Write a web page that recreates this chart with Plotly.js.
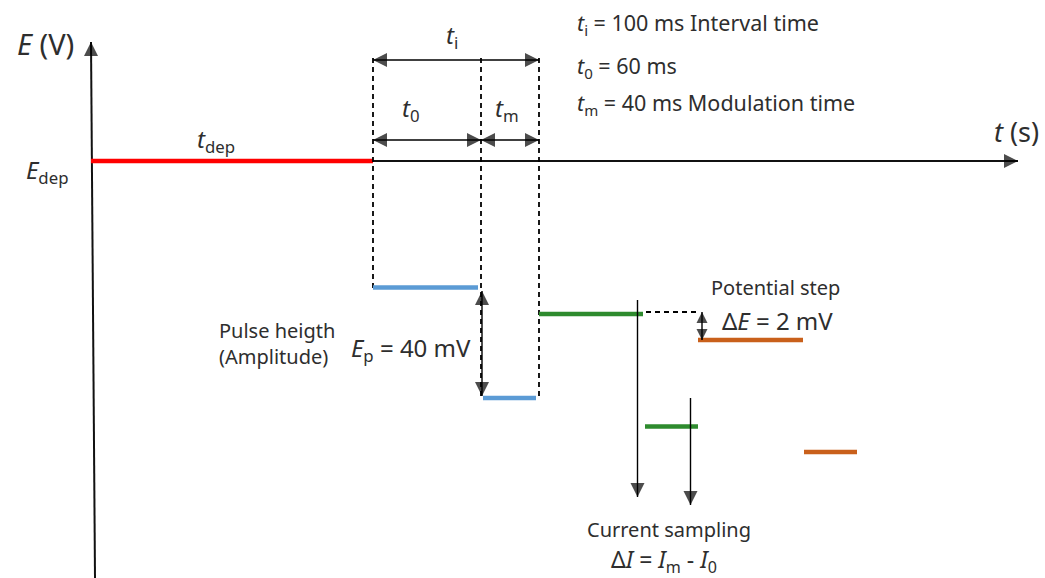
<!DOCTYPE html>
<html>
<head>
<meta charset="utf-8">
<script src="https://cdn.plot.ly/plotly-3.0.1.min.js"></script>
<style>html,body{margin:0;padding:0;background:#fff;}#chart{width:1045px;height:578px;}</style>
</head>
<body>
<div id="chart"></div>
<script>
// ---- schematic data (diagram units) ----
const eAxisX = [95, 91];           // potential axis (bottom -> top)
const eAxisY = [578, 42];
const timeAxisX = [373, 1018];     // time axis
const timeAxisY = [161, 161];
const depX = [91, 373];            // deposition step
const depY = [161, 161];
// pulse levels: [pulse1 base, pulse1 pulse, pulse2 base, pulse2 pulse, pulse3 base, pulse3 pulse]
const levelStartX = [373, 483, 539, 645, 698, 804];
const levelEndX   = [478, 536, 643, 698, 803, 857];
const levelY      = [287.5, 398, 314, 426.5, 340, 452];
const levelPulse  = [0, 0, 1, 1, 2, 2];
// dashed guides
const guideX      = [373, 481, 539];
const guideTop    = [58, 58, 58];
const guideBottom = [288, 398, 398];
const stepGuideX  = [646, 700];
const stepGuideY  = [312, 312];
// current sampling lines
const sampleX   = [637.5, 690.5];
const sampleTop = [300, 398];
const sampleTip = [497, 505];
// dimension arrows [x0, y0, x1, y1]
const dimTi = [373, 60, 539, 60];
const dimT0 = [373, 140, 481, 140];
const dimTm = [481, 140, 539, 140];
const dimEp = [482, 291, 482, 396];
const dimDE = [702, 312, 702, 340];
// text labels
const infoLines = [
  '<i>t</i><sub>i</sub> = 100 ms Interval time',
  '<i>t</i><sub>0</sub> = 60 ms',
  '<i>t</i><sub>m</sub> = 40 ms Modulation time'
];

const pulseColors = ['#5B9BD5', '#2E8B2E', '#C9601B'];
const FONT = 'Noto Sans, DejaVu Sans, sans-serif';
const TXT = '#2e2e2e';

// line groups (one trace per style, segments separated by null)
const groups = {};
function seg(key, x, y) {
  if (!groups[key]) groups[key] = {x: [], y: []};
  groups[key].x.push(x[0], x[1], null);
  groups[key].y.push(y[0], y[1], null);
}
const styles = {
  axis:  {color: '#111', width: 2},
  dash:  {color: '#000', width: 1.8, dash: '5px,4px'},
  dep:   {color: '#FF0000', width: 4.5},
  p0:    {color: pulseColors[0], width: 4.5},
  p1:    {color: pulseColors[1], width: 4.5},
  p2:    {color: pulseColors[2], width: 4.5},
  arrow: {color: '#000', width: 1.4}
};
const headX = [], headY = [], headSym = [], headSize = [];
function head(x, y, dir, s) { headX.push(x); headY.push(y); headSym.push('arrow-' + dir); headSize.push(s || 14); }
function dirOf(x0, y0, x1, y1) {
  if (Math.abs(x1 - x0) > Math.abs(y1 - y0)) return x1 > x0 ? 'right' : 'left';
  return y1 > y0 ? 'down' : 'up';  // y axis reversed: larger y = lower on screen
}
function arrow(x0, y0, x1, y1, both, s) {
  seg('arrow', [x0, x1], [y0, y1]);
  head(x1, y1, dirOf(x0, y0, x1, y1), s);
  if (both) head(x0, y0, dirOf(x1, y1, x0, y0), s);
}

seg('axis', eAxisX, eAxisY);
head(eAxisX[1], eAxisY[1], 'up');
seg('axis', timeAxisX, timeAxisY);
head(timeAxisX[1], timeAxisY[1], 'right');
seg('dep', depX, depY);
for (let i = 0; i < guideX.length; i++) seg('dash', [guideX[i], guideX[i]], [guideTop[i], guideBottom[i]]);
seg('dash', stepGuideX, stepGuideY);
for (let i = 0; i < levelY.length; i++) seg('p' + levelPulse[i], [levelStartX[i], levelEndX[i]], [levelY[i], levelY[i]]);
for (let i = 0; i < sampleX.length; i++) arrow(sampleX[i], sampleTop[i], sampleX[i], sampleTip[i], false);
[dimTi, dimT0, dimTm, dimEp].forEach(d => arrow(d[0], d[1], d[2], d[3], true));
arrow(dimDE[0], dimDE[1], dimDE[2], dimDE[3], true, 11);

const traces = Object.keys(groups).map(k => ({
  x: groups[k].x, y: groups[k].y, mode: 'lines', type: 'scatter', connectgaps: false,
  line: styles[k], hoverinfo: 'skip', showlegend: false
}));
traces.push({x: headX, y: headY, mode: 'markers', type: 'scatter', hoverinfo: 'skip', showlegend: false,
  marker: {symbol: headSym, size: headSize, color: '#000', line: {width: 0}}});

const annotations = [];
function label(text, x, y, size, xanchor) {
  annotations.push({x: x, y: y, xref: 'x', yref: 'y', text: text, showarrow: false,
    xanchor: xanchor || 'center', yanchor: 'middle', font: {family: FONT, size: size, color: TXT}});
}
label('<i>E</i> (V)', 45, 43, 29);
label('<i>E</i><sub>dep</sub>', 47, 171, 24);
label('<i>t</i><sub>dep</sub>', 216, 140, 24);
label('<i>t</i><sub>i</sub>', 452, 36, 24);
label('<i>t</i><sub>0</sub>', 411, 109, 24);
label('<i>t</i><sub>m</sub>', 507, 109, 24);
label('<i>t</i> (s)', 1016, 131, 27);
const infoY = [24, 67, 104];
for (let i = 0; i < infoLines.length; i++) label(infoLines[i], 575, infoY[i], 21.5, 'left');
label('Pulse heigth', 217, 330, 20, 'left');
label('(Amplitude)', 217, 356, 20, 'left');
label('<i>E</i><sub>p</sub> = 40 mV', 411, 349, 24);
label('Potential step', 775, 287, 20);
label('Δ<i>E</i> = 2 mV', 777, 320, 24);
label('Current sampling', 669, 529, 20);
label('Δ<i>I</i> = <i>I</i><sub>m</sub> - <i>I</i><sub>0</sub>', 664, 560, 23);

const layout = {
  width: 1045, height: 578,
  margin: {l: 0, r: 0, t: 0, b: 0},
  paper_bgcolor: '#fff', plot_bgcolor: '#fff',
  xaxis: {range: [0, 1045], visible: false, fixedrange: true},
  yaxis: {range: [578, 0], visible: false, fixedrange: true},
  annotations: annotations,
  showlegend: false
};
Plotly.newPlot('chart', traces, layout, {staticPlot: true, displayModeBar: false});
</script>
</body>
</html>
